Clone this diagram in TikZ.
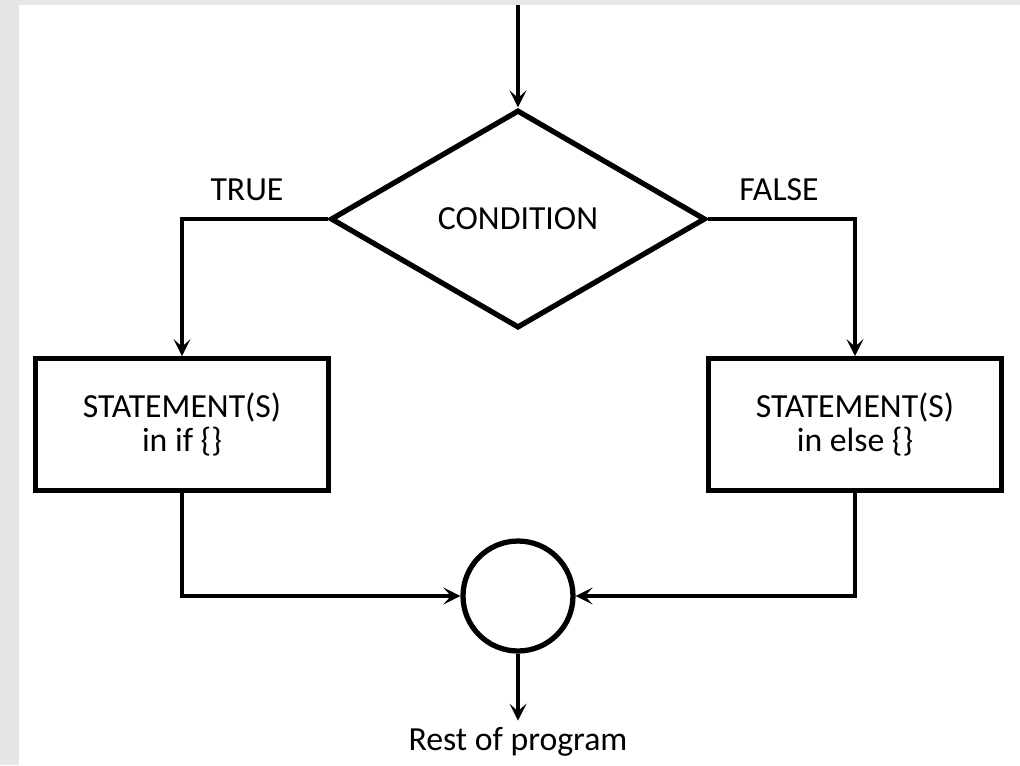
\documentclass[tikz,border=0pt]{standalone}
\usepackage{fontspec}
\setmainfont{Carlito}
\usetikzlibrary{shapes.geometric,arrows.meta}
\definecolor{pagegray}{HTML}{E6E6E6}

\begin{document}
\begin{tikzpicture}[x=0.02cm, y=-0.02cm,
        txt/.style={font=\fontsize{19.2}{19}\selectfont},
        decision/.style={txt, draw, diamond, line width=3pt, minimum width=7.5cm, minimum height=4.36cm, inner sep=0pt},
        block/.style={txt, draw, rectangle, line width=3pt, minimum width=5.85cm, minimum height=2.63cm, align=center},
        joint/.style={draw, circle, line width=3pt, minimum size=2.2cm},
        flow/.style={line width=1.8pt, -{Stealth[length=0.34cm, width=0.34cm, inset=0.15cm]}}]
        \useasboundingbox (0, 0) rectangle (1020, 765);
        \fill[pagegray] (0, 0) rectangle (1020, 765);
        \fill[white] (19, 5) rectangle (1020, 765);
        
        \coordinate (start) at (518, 5);
        \node[decision] (cond) at (518, 219) {CONDITION};
        \node[block] (ifpart) at (182, 424.5) {STATEMENT(S)\\in if \{\}};
        \node[block] (elsepart) at (855, 424.5) {STATEMENT(S)\\in else \{\}};
        \node[joint] (merge) at (518, 596) {};
        \node[txt, anchor=base] (rest) at (518, 750) {Rest of program};
        \node[txt, anchor=base] (truelbl) at (247, 200) {TRUE};
        \node[txt, anchor=base] (falselbl) at (779, 200) {FALSE};
        
        \draw[flow] (start) -- (cond.north);
        \draw[flow] (cond.west) -| (ifpart.north);
        \draw[flow] (cond.east) -| (elsepart.north);
        \draw[flow] (ifpart.south) |- (merge.west);
        \draw[flow] (elsepart.south) |- (merge.east);
        \draw[flow] (merge.south) -- (rest.north);
\end{tikzpicture}
\end{document}
